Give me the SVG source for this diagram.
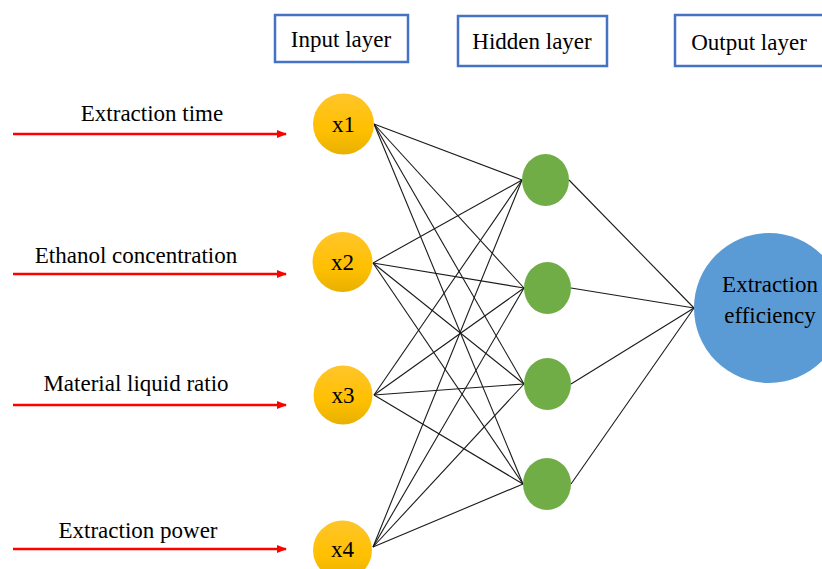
<svg xmlns="http://www.w3.org/2000/svg" width="822" height="569" viewBox="0 0 822 569">
<defs>
<style>
.box{fill:#fff;stroke:#4472C4;stroke-width:2.5}
.t{font-family:"Liberation Serif","Times New Roman",serif;font-size:23px;fill:#000;text-anchor:middle}
.in{fill:url(#yg)}
.hid{fill:#70AD47}
.out{fill:#5B9BD5}
.c line{stroke:#1a1a1a;stroke-width:1.1}
.arr{stroke:#FF0000;stroke-width:2.5;fill:none}
</style>
<linearGradient id="yg" x1="0" y1="0" x2="0" y2="1">
<stop offset="0" stop-color="#FFC52A"/>
<stop offset="0.6" stop-color="#FFC000"/>
<stop offset="1" stop-color="#E8B000"/>
</linearGradient>
<marker id="ah" markerWidth="10" markerHeight="8" refX="9" refY="4" orient="auto" markerUnits="userSpaceOnUse">
<path d="M0,0 L10,4 L0,8 Z" fill="#FF0000"/>
</marker>
</defs>
<rect width="822" height="569" fill="#fff"/>

<g id="label-input"><rect class="box" x="275" y="15" width="133" height="47"/><text class="t" x="341" y="47">Input layer</text></g>
<g id="label-hidden"><rect class="box" x="458" y="16" width="149" height="50"/><text class="t" x="532" y="49">Hidden layer</text></g>
<g id="label-output"><rect class="box" x="675" y="15" width="150" height="51"/><text class="t" x="749" y="50">Output layer</text></g>

<g id="inputs">
<g id="in1"><line class="arr" x1="13" y1="134" x2="286" y2="134" marker-end="url(#ah)"/><text class="t" x="152" y="121">Extraction time</text></g>
<g id="in2"><line class="arr" x1="13" y1="274" x2="286" y2="274" marker-end="url(#ah)"/><text class="t" x="136" y="263">Ethanol concentration</text></g>
<g id="in3"><line class="arr" x1="13" y1="405" x2="286" y2="405" marker-end="url(#ah)"/><text class="t" x="136" y="391">Material liquid ratio</text></g>
<g id="in4"><line class="arr" x1="13" y1="549" x2="286" y2="549" marker-end="url(#ah)"/><text class="t" x="138" y="538">Extraction power</text></g>
</g>

<g id="connectors" class="c">
<line x1="374" y1="124" x2="522" y2="180"/><line x1="374" y1="124" x2="524" y2="288"/><line x1="374" y1="124" x2="524" y2="384"/><line x1="374" y1="124" x2="523" y2="484"/>
<line x1="373" y1="263" x2="522" y2="180"/><line x1="373" y1="263" x2="524" y2="288"/><line x1="373" y1="263" x2="524" y2="384"/><line x1="373" y1="263" x2="523" y2="484"/>
<line x1="374" y1="395" x2="522" y2="180"/><line x1="374" y1="395" x2="524" y2="288"/><line x1="374" y1="395" x2="524" y2="384"/><line x1="374" y1="395" x2="523" y2="484"/>
<line x1="373" y1="547" x2="522" y2="180"/><line x1="373" y1="547" x2="524" y2="288"/><line x1="373" y1="547" x2="524" y2="384"/><line x1="373" y1="547" x2="523" y2="484"/>
<line x1="569" y1="180" x2="694" y2="308"/><line x1="571" y1="288" x2="694" y2="308"/><line x1="571" y1="384" x2="694" y2="308"/><line x1="571" y1="484" x2="694" y2="308"/>
</g>

<g id="x1"><circle class="in" cx="343.5" cy="124" r="30.5"/><text class="t" x="343.5" y="132">x1</text></g>
<g id="x2"><circle class="in" cx="342.5" cy="262" r="30"/><text class="t" x="342.5" y="270">x2</text></g>
<g id="x3"><circle class="in" cx="343" cy="395" r="29.5"/><text class="t" x="343" y="403">x3</text></g>
<g id="x4"><circle class="in" cx="342.5" cy="550" r="29.5"/><text class="t" x="342.5" y="557">x4</text></g>

<g id="h1"><ellipse class="hid" cx="545.5" cy="180" rx="23.5" ry="26"/></g>
<g id="h2"><ellipse class="hid" cx="547.5" cy="288" rx="23.5" ry="26"/></g>
<g id="h3"><ellipse class="hid" cx="547.5" cy="384" rx="23.5" ry="26"/></g>
<g id="h4"><ellipse class="hid" cx="547" cy="484" rx="24" ry="26"/></g>

<g id="output"><ellipse class="out" cx="769" cy="308" rx="75" ry="75"/><text class="t" x="770" y="292">Extraction</text><text class="t" x="770" y="323">efficiency</text></g>
</svg>
